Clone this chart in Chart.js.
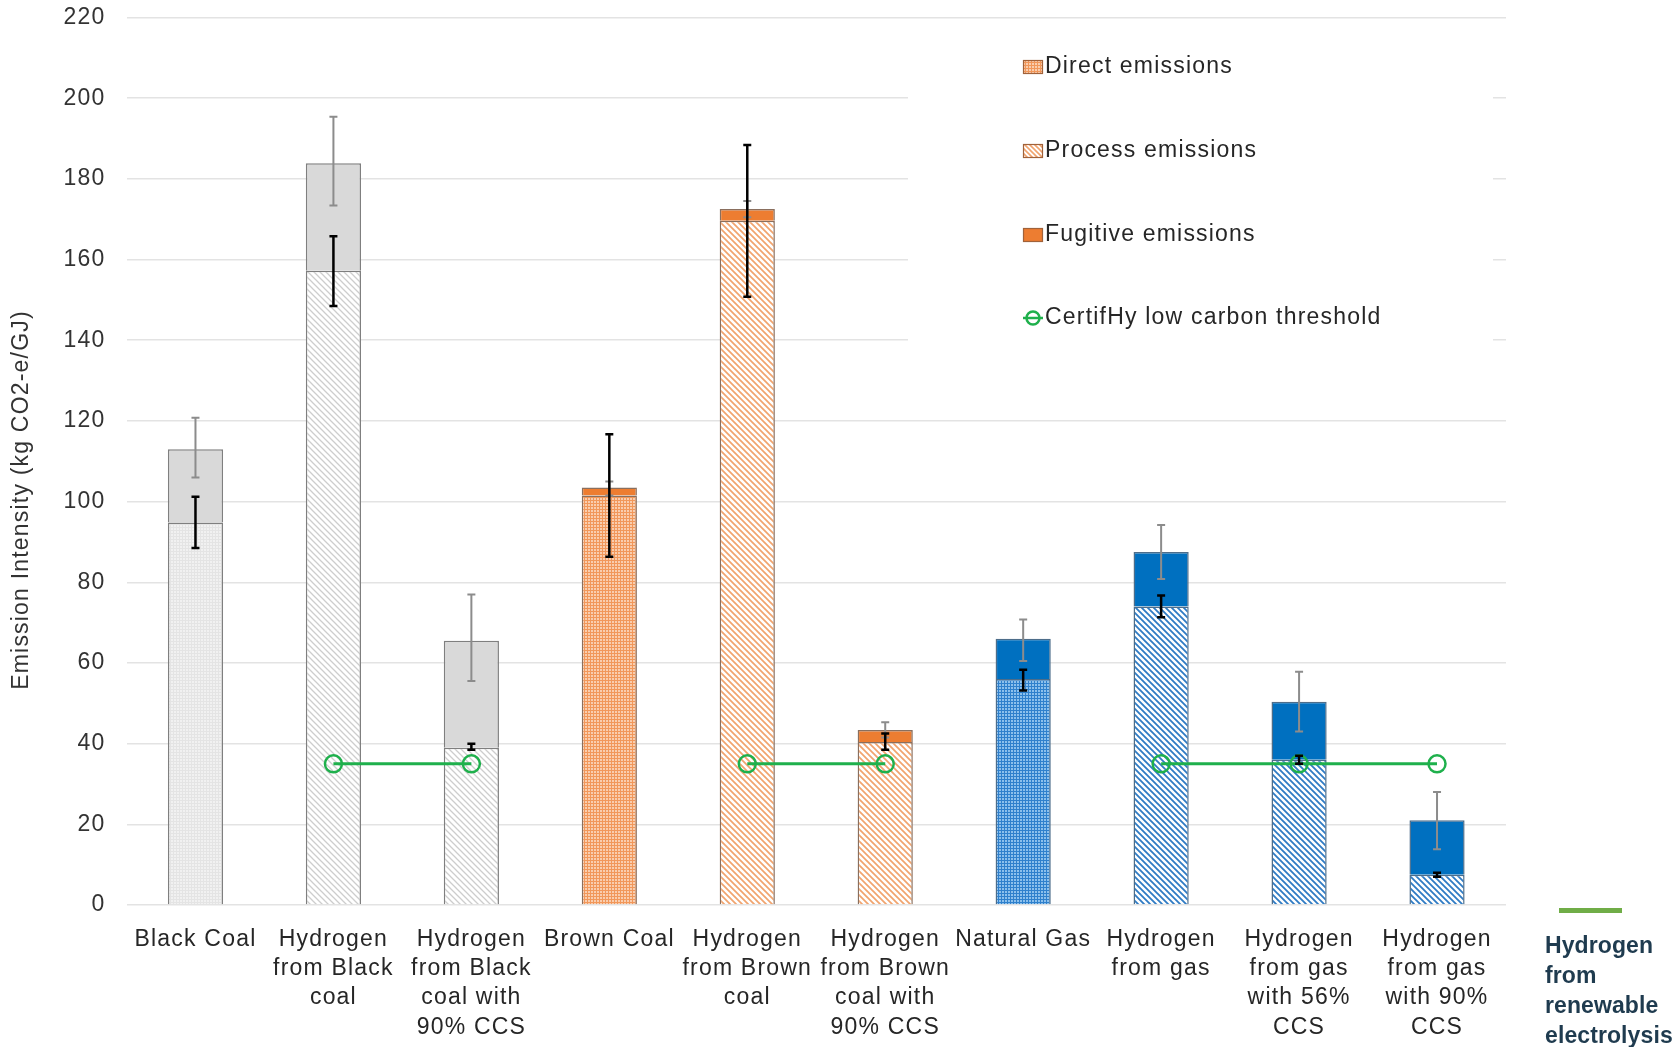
<!DOCTYPE html>
<html><head><meta charset="utf-8">
<script src="https://cdn.jsdelivr.net/npm/chart.js@4.4.1/dist/chart.umd.min.js"></script>
<style>
html,body{margin:0;padding:0;background:#fff;}
#wrap{position:relative;width:1675px;height:1047px;}
#note{position:absolute;left:1545px;top:930px;font:bold 23px "Liberation Sans",Arial,sans-serif;color:#1f3b4f;line-height:30px;letter-spacing:0.1px;}
#gbar{position:absolute;left:1559px;top:908px;width:63px;height:5px;background:#70ad47;}
</style></head>
<body><div id="wrap"><canvas id="c" width="1675" height="1047"></canvas><div id="gbar"></div><div id="note">Hydrogen<br>from<br>renewable<br>electrolysis</div></div>
<script>
// ---------- DATA ----------
const categories = [
  ["Black Coal"],
  ["Hydrogen", "from Black", "coal"],
  ["Hydrogen", "from Black", "coal with", "90% CCS"],
  ["Brown Coal"],
  ["Hydrogen", "from Brown", "coal"],
  ["Hydrogen", "from Brown", "coal with", "90% CCS"],
  ["Natural Gas"],
  ["Hydrogen", "from gas"],
  ["Hydrogen", "from gas", "with 56%", "CCS"],
  ["Hydrogen", "from gas", "with 90%", "CCS"]
];
const fuelGroup = ["coal","coal","coal","brown","brown","brown","gas","gas","gas","gas"];
const directEmissions   = [94.8, null, null, 101.5, null, null, 56, null, null, null];
const processEmissions  = [null, 157.2, 39, null, 169.6, 40.4, null, 74, 36, 7.5];
const fugitiveEmissions = [18.2, 26.7, 26.5, 2, 2.9, 3, 10, 13.5, 14.4, 13.5];
const thresholdValues   = [null, 35, 35, null, 35, 35, null, 35, 35, 35];
// error ranges: total (grey whiskers) and base (black whiskers)
const totalErrLow  = [106, 173.4, 55.5, 101.5, 170.5, 41.5, 60.5, 80.8, 43, 13.8];
const totalErrHigh = [120.8, 195.4, 77, 105, 174.5, 45.3, 70.8, 94.2, 57.8, 28];
const baseErrLow   = [88.5, 148.5, 38.5, 86.3, 150.8, 38.5, 53.2, 71.3, 35, 7];
const baseErrHigh  = [101.2, 165.8, 40, 116.7, 188.4, 42.5, 58.3, 76.7, 37, 8];
const yMin = 0, yMax = 220, yStep = 20;
const legendLabels = ["Direct emissions", "Process emissions", "Fugitive emissions", "CertifHy low carbon threshold"];
const yTitle = "Emission Intensity (kg CO2-e/GJ)";

// ---------- STYLE ----------
const FONT = '"Liberation Sans", Arial, sans-serif';
const FS = 23;
const LS = '1.2px';
const canvas = document.getElementById('c');
const ctx0 = canvas.getContext('2d');

function dotPattern(bg, dot) {
  const c = document.createElement('canvas'); c.width = 6; c.height = 6;
  const g = c.getContext('2d');
  g.fillStyle = bg; g.fillRect(0, 0, 6, 6);
  g.fillStyle = dot;
  g.fillRect(0, 0, 2, 2); g.fillRect(3, 0, 2, 2); g.fillRect(0, 3, 2, 2); g.fillRect(3, 3, 2, 2);
  return ctx0.createPattern(c, 'repeat');
}
function hatchPattern(bg, line, size, w) {
  const c = document.createElement('canvas'); c.width = size; c.height = size;
  const g = c.getContext('2d');
  g.fillStyle = bg; g.fillRect(0, 0, size, size);
  g.strokeStyle = line; g.lineWidth = w;
  g.beginPath();
  for (const k of [-size, 0, size]) { g.moveTo(k - 1, -1); g.lineTo(k + size + 1, size + 1); }
  g.stroke();
  return ctx0.createPattern(c, 'repeat');
}
const palette = {
  coal:  { fug: '#d9d9d9', direct: dotPattern('#e4e4e4', '#f1f1f1'), process: hatchPattern('#ffffff', '#cdcdcd', 6, 1.3), border: '#7f7f7f' },
  brown: { fug: '#ed7d31', direct: dotPattern('#f1975a', '#f9cdae'), process: hatchPattern('#ffffff', '#f1a46e', 6, 1.7), border: '#8a6f5e' },
  gas:   { fug: '#0070c0', direct: dotPattern('#2f80cc', '#8cc0ec'), process: hatchPattern('#ffffff', '#2f7bc4', 6, 1.8), border: '#4d6d8a' }
};
const legendDirect = dotPattern('#f1975a', '#f9cdae');
const legendProcess = hatchPattern('#ffffff', '#f1a46e', 5, 1.6);
const GREEN = '#1fb04c';

function setLS(chart) { if ('letterSpacing' in chart.ctx) chart.ctx.letterSpacing = LS; }

const customPlugin = {
  id: 'custom',
  beforeLayout(chart) { setLS(chart); },
  beforeDraw(chart) { setLS(chart); },
  beforeDatasetsDraw(chart) {
    const ctx = chart.ctx;
    ctx.save();
    ctx.fillStyle = '#ffffff';
    ctx.fillRect(908, 45, 585, 320);
    ctx.restore();
  },
  afterDatasetsDraw(chart) {
    const ctx = chart.ctx, xs = chart.scales.x, ys = chart.scales.y;
    const drawErr = (i, lo, hi, color, w) => {
      const x = xs.getPixelForValue(i);
      const y1 = ys.getPixelForValue(lo), y2 = ys.getPixelForValue(hi);
      ctx.strokeStyle = color; ctx.lineWidth = w;
      ctx.beginPath();
      ctx.moveTo(x, y1); ctx.lineTo(x, y2);
      ctx.moveTo(x - 4, y1); ctx.lineTo(x + 4, y1);
      ctx.moveTo(x - 4, y2); ctx.lineTo(x + 4, y2);
      ctx.stroke();
    };
    ctx.save();
    for (let i = 0; i < categories.length; i++) {
      drawErr(i, totalErrLow[i], totalErrHigh[i], '#8c8c8c', 2);
      drawErr(i, baseErrLow[i], baseErrHigh[i], '#000000', 2.5);
    }
    ctx.restore();
  },
  afterDraw(chart) {
    const ctx = chart.ctx;
    ctx.save();
    setLS(chart);
    // y axis title
    ctx.translate(22, 500);
    ctx.rotate(-Math.PI / 2);
    ctx.font = FS + 'px ' + FONT;
    ctx.fillStyle = '#333333';
    ctx.textAlign = 'center';
    ctx.textBaseline = 'middle';
    ctx.fillText(yTitle, 0, 0);
    ctx.restore();

    // legend
    ctx.save();
    setLS(chart);
    const ys = [67, 151, 235, 318];
    const ix = 1023, iw = 20, ih = 14;
    ctx.font = FS + 'px ' + FONT;
    ctx.textBaseline = 'middle';
    ctx.textAlign = 'left';
    const fills = [legendDirect, legendProcess, '#ed7d31'];
    for (let k = 0; k < 3; k++) {
      ctx.fillStyle = fills[k];
      ctx.fillRect(ix, ys[k] - ih / 2, iw, ih);
      ctx.strokeStyle = '#a0623a'; ctx.lineWidth = 1.2;
      ctx.strokeRect(ix + 0.5, ys[k] - ih / 2 + 0.5, iw - 1, ih - 1);
    }
    ctx.strokeStyle = GREEN; ctx.lineWidth = 2.5;
    ctx.beginPath(); ctx.moveTo(ix, ys[3]); ctx.lineTo(ix + iw, ys[3]); ctx.stroke();
    ctx.beginPath(); ctx.arc(ix + 10, ys[3], 6.5, 0, Math.PI * 2); ctx.stroke();
    ctx.fillStyle = '#262626';
    for (let k = 0; k < 4; k++) ctx.fillText(legendLabels[k], 1045, ys[k]);
    ctx.restore();
  }
};

const pick = (key) => fuelGroup.map(g => palette[g][key]);

new Chart(canvas, {
  type: 'bar',
  data: {
    labels: categories,
    datasets: [
      { label: 'Direct emissions', data: directEmissions, stack: 'bars', order: 1,
        backgroundColor: pick('direct'), borderColor: pick('border'), borderWidth: 1.5,
        categoryPercentage: 1, barPercentage: 0.4 },
      { label: 'Process emissions', data: processEmissions, stack: 'bars', order: 1,
        backgroundColor: pick('process'), borderColor: pick('border'), borderWidth: 1.5,
        categoryPercentage: 1, barPercentage: 0.4 },
      { label: 'Fugitive emissions', data: fugitiveEmissions, stack: 'bars', order: 1,
        backgroundColor: pick('fug'), borderColor: pick('border'), borderWidth: 1.5,
        categoryPercentage: 1, barPercentage: 0.4 },
      { type: 'line', label: 'CertifHy low carbon threshold', data: thresholdValues, stack: 'line', order: 0,
        borderColor: GREEN, borderWidth: 3, spanGaps: false,
        pointRadius: 8.5, pointBorderWidth: 2.5, pointBorderColor: GREEN,
        pointBackgroundColor: 'rgba(255,255,255,0)', fill: false }
    ]
  },
  options: {
    responsive: false, animation: false, devicePixelRatio: 1,
    layout: { padding: { top: 17.5, right: 169, left: 0, bottom: 0 } },
    plugins: { legend: { display: false }, tooltip: { enabled: false } },
    scales: {
      x: {
        stacked: true,
        grid: { display: false }, border: { display: false },
        ticks: { padding: 12, color: '#262626', autoSkip: false, maxRotation: 0,
                 font: { family: FONT, size: FS, lineHeight: 1.27 } },
        afterFit(s) { s.height = 142; s.paddingLeft = 0; s.paddingRight = 0; }
      },
      y: {
        stacked: true, min: yMin, max: yMax,
        grid: { color: '#e3e3e3', lineWidth: 1.5, drawTicks: false },
        border: { display: false },
        ticks: { stepSize: yStep, padding: 21, color: '#333333', font: { family: FONT, size: FS } },
        afterFit(s) { s.width = 126.5; s.paddingTop = 0; s.paddingBottom = 0; }
      }
    }
  },
  plugins: [customPlugin]
});
</script>
</body></html>
